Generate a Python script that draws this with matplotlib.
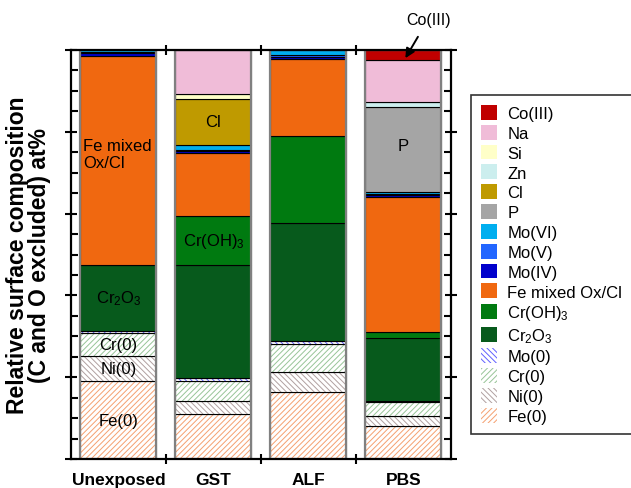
import matplotlib.pyplot as plt
from matplotlib.patches import Patch
from matplotlib.ticker import MultipleLocator, FixedLocator
import numpy as np

plt.rcParams['font.family'] = ['Liberation Sans', 'DejaVu Sans']
plt.rcParams['mathtext.default'] = 'regular'
plt.rcParams['hatch.linewidth'] = 0.7

samples = ['Unexposed', 'GST', 'ALF', 'PBS']

# at% per component, stacked bottom to top
fe0 = [19.0, 11.0, 16.3, 8.0]
ni0 = [6.2, 3.3, 4.9, 2.4]
cr0 = [5.5, 4.8, 6.8, 3.5]
mo0 = [0.6, 0.6, 0.9, 0.4]
cr2o3 = [16.2, 27.7, 28.8, 15.4]
croh3 = [0.0, 11.9, 21.3, 1.3]
fe_mixed = [51.1, 15.4, 18.8, 33.0]
mo4 = [0.6, 0.5, 0.6, 0.5]
mo5 = [0.3, 0.4, 0.3, 0.3]
mo6 = [0.5, 1.2, 1.3, 0.6]
p = [0.0, 0.0, 0.0, 20.6]
cl = [0.0, 11.2, 0.0, 0.0]
zn = [0.0, 0.0, 0.0, 1.2]
si = [0.0, 1.3, 0.0, 0.0]
na = [0.0, 10.7, 0.0, 10.3]
co3 = [0.0, 0.0, 0.0, 2.5]

# (label, values, face colour, hatch, hatch colour)
layers = [
    ('Fe(0)', fe0, 'white', '//////', '#F5A070'),
    ('Ni(0)', ni0, 'white', '\\\\\\\\\\\\', '#B0A0A0'),
    ('Cr(0)', cr0, 'white', '//////', '#98C498'),
    ('Mo(0)', mo0, 'white', '\\\\\\\\\\\\', '#6060FF'),
    ('Cr$_2$O$_3$', cr2o3, '#075A1C', None, None),
    ('Cr(OH)$_3$', croh3, '#007A10', None, None),
    ('Fe mixed Ox/Cl', fe_mixed, '#F06810', None, None),
    ('Mo(IV)', mo4, '#0000CC', None, None),
    ('Mo(V)', mo5, '#2266FF', None, None),
    ('Mo(VI)', mo6, '#00AEEF', None, None),
    ('P', p, '#A5A5A5', None, None),
    ('Cl', cl, '#BF9A00', None, None),
    ('Zn', zn, '#CCEEEE', None, None),
    ('Si', si, '#FFFFC8', None, None),
    ('Na', na, '#F0BCD8', None, None),
    ('Co(III)', co3, '#C00000', None, None),
]

fig = plt.figure(figsize=(6.31, 4.89), dpi=100)
ax = fig.add_axes([0.1125, 0.0593, 0.6022, 0.8364])

x = np.arange(len(samples))
width = 0.8
bottom = np.zeros(len(samples))
seg = {}
for label, vals, face, hatch, hcol in layers:
    vals = np.array(vals)
    m = vals > 0
    ax.bar(x[m], vals[m], width, bottom=bottom[m], color=face,
           edgecolor=hcol if hcol else face, hatch=hatch, linewidth=0)
    ax.bar(x[m], vals[m], width, bottom=bottom[m], fill=False,
           edgecolor='black', linewidth=0.8)
    seg[label] = (bottom.copy(), bottom + vals)
    bottom = bottom + vals

# grey outline round each column
ax.bar(x, bottom, width, fill=False, edgecolor='#808080', linewidth=1.6)


def mid(label, i):
    lo, hi = seg[label]
    return (lo[i] + hi[i]) / 2


fs = 12
ax.text(-0.375, mid('Fe mixed Ox/Cl', 0) + 1.5, 'Fe mixed\nOx/Cl', ha='left',
        va='center', fontsize=fs, linespacing=1.15)
ax.text(0, mid('Cr$_2$O$_3$', 0), 'Cr$_2$O$_3$', ha='center', va='center', fontsize=fs)
ax.text(0, mid('Cr(0)', 0), 'Cr(0)', ha='center', va='center', fontsize=fs)
ax.text(0, mid('Ni(0)', 0), 'Ni(0)', ha='center', va='center', fontsize=fs)
ax.text(0, mid('Fe(0)', 0), 'Fe(0)', ha='center', va='center', fontsize=fs)
ax.text(1, mid('Cl', 1), 'Cl', ha='center', va='center', fontsize=fs)
ax.text(1, mid('Cr(OH)$_3$', 1), 'Cr(OH)$_3$', ha='center', va='center', fontsize=fs)
ax.text(3, mid('P', 3) + 1, 'P', ha='center', va='center', fontsize=fs)

ax.annotate('Co(III)', xy=(3.02, seg['Co(III)'][0][3] + 0.5), xytext=(3.26, 107.5),
            ha='center', va='center', fontsize=11.5, annotation_clip=False,
            arrowprops=dict(arrowstyle='-|>', color='black', lw=1.4,
                            mutation_scale=14, shrinkA=6, shrinkB=0))

ax.set_xlim(-0.5, 3.5)
ax.set_ylim(0, 100)
ax.set_xticks(x)
ax.set_xticklabels(samples, fontsize=12.5, fontweight='bold')
ax.xaxis.set_minor_locator(FixedLocator([0.5, 1.5, 2.5]))
ax.tick_params(axis='x', which='major', length=0, pad=9)
ax.tick_params(axis='x', which='minor', direction='inout', length=7, width=1.5,
               top=True, bottom=True)

ax.yaxis.set_major_locator(MultipleLocator(20))
ax.yaxis.set_minor_locator(MultipleLocator(5))
ax.tick_params(axis='y', which='major', direction='inout', length=9, width=1.5,
               left=True, right=True, labelleft=False)
ax.tick_params(axis='y', which='minor', direction='in', length=5, width=1.5,
               left=True, right=True)
for s in ax.spines.values():
    s.set_linewidth(1.6)

ax.set_ylabel('Relative surface composition\n(C and O excluded) at%',
              fontsize=16.5, fontweight='bold', labelpad=10, linespacing=0.94)

handles = []
for label, vals, face, hatch, hcol in reversed(layers):
    if hatch:
        handles.append(Patch(facecolor='white', edgecolor=hcol, hatch=hatch,
                             linewidth=0, label=label))
    else:
        handles.append(Patch(facecolor=face, edgecolor=face, linewidth=0, label=label))

leg = fig.legend(handles=handles, loc='upper left', bbox_to_anchor=(0.746, 0.804),
                 fontsize=12, frameon=True, fancybox=False, edgecolor='black',
                 handlelength=1.0, handleheight=1.0, handletextpad=0.6,
                 labelspacing=0.22, borderpad=0.6, borderaxespad=0)
leg.get_frame().set_linewidth(1.2)

fig.savefig('out.png', dpi=100)
